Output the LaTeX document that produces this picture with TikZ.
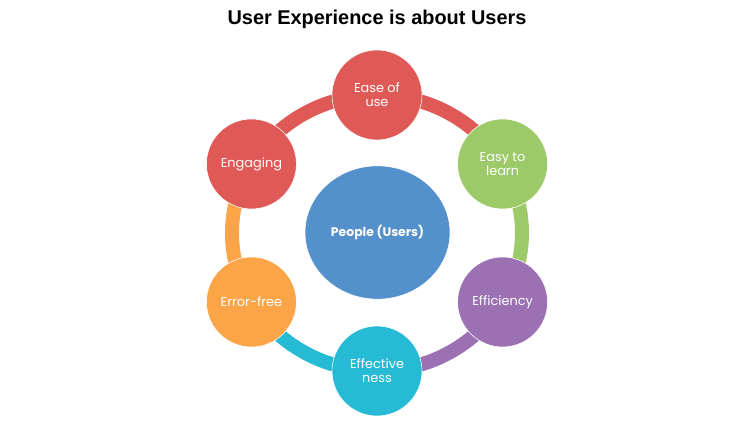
\documentclass[tikz,border=0pt]{standalone}
\usepackage{fontspec}
\setmainfont{Poppins}
\newfontfamily\titlefont{Liberation Sans}
\usetikzlibrary{shapes.geometric}
\definecolor{uxred}{HTML}{DF5A56}
\definecolor{uxgreen}{HTML}{9CCA69}
\definecolor{uxpurple}{HTML}{9B71B3}
\definecolor{uxcyan}{HTML}{26BAD5}
\definecolor{uxorange}{HTML}{FBA548}
\definecolor{uxblue}{HTML}{5490CB}
\tikzset{
  bubble/.style={
    shape = circle,
    draw = white,
    line width = 0.5pt,
    minimum size = 27mm,
    inner sep = 0pt,
    text = white,
    align = center,
    font = \fontsize{11}{12}\selectfont
  },
  hub/.style={
    shape = ellipse,
    draw = white,
    line width = 0.5pt,
    fill = uxblue,
    minimum width = 43.5mm,
    minimum height = 40mm,
    text = white,
    font = \bfseries\fontsize{10.6}{12}\selectfont
  },
  ring/.style={
    line width = 4.2mm
  },
  every picture/.style = {
    x = 0.3mm,
    y = 0.3mm
  }
}
\begin{document}
\begin{tikzpicture}
            \useasboundingbox (-377,-191) rectangle (377,233);
            \node[font=\titlefont\bfseries\fontsize{17}{20}\selectfont] (title) at (0,214) {User Experience is about Users};
            % positions on the ring
            \coordinate (p1) at (90:145 and 138);
            \coordinate (p2) at (30:145 and 138);
            \coordinate (p3) at (-30:145 and 138);
            \coordinate (p4) at (-90:145 and 138);
            \coordinate (p5) at (-150:145 and 138);
            \coordinate (p6) at (150:145 and 138);
            \draw[ring,uxred] (p1) arc[start angle=90, end angle=30, x radius=145, y radius=138];
            \draw[ring,uxgreen] (p2) arc[start angle=30, end angle=-30, x radius=145, y radius=138];
            \draw[ring,uxpurple] (p3) arc[start angle=-30, end angle=-90, x radius=145, y radius=138];
            \draw[ring,uxcyan] (p4) arc[start angle=-90, end angle=-150, x radius=145, y radius=138];
            \draw[ring,uxorange] (p5) arc[start angle=-150, end angle=-210, x radius=145, y radius=138];
            \draw[ring,uxred] (p6) arc[start angle=150, end angle=90, x radius=145, y radius=138];
            \node[bubble,fill=uxred] (ease) at (p1) {Ease of\\use};
            \node[bubble,fill=uxgreen] (learn) at (p2) {Easy to\\learn};
            \node[bubble,fill=uxpurple] (effic) at (p3) {Efficiency};
            \node[bubble,fill=uxcyan] (effect) at (p4) {Effective\\ness};
            \node[bubble,fill=uxorange] (error) at (p5) {Error-free};
            \node[bubble,fill=uxred] (engage) at (p6) {Engaging};
            \node[hub] (people) at (0.5,0.5) {People (Users)};
        \end{tikzpicture}
\end{document}
